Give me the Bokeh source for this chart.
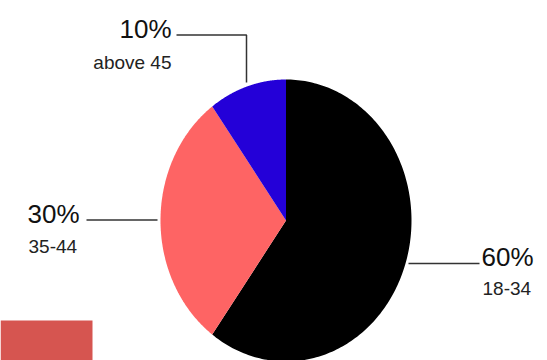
import numpy as np
from bokeh.plotting import figure
from bokeh.models import Range1d, ColumnDataSource
from bokeh.core.properties import value
from bokeh.embed import file_html
from bokeh.resources import INLINE

# data
categories = ["18-34", "35-44", "above 45"]
shares = [60, 30, 10]
colors = ["#000000", "#fe6464", "#2400d8"]

# layout (pixel space, y from top)
W, H = 547, 360
cx, cy, rx, ry = 285.5, 220.0, 125.5, 141.0
pct_x = [481.0, 27.0, 171.0]
pct_y = [256.0, 213.0, 28.5]
cat_y = [288.0, 246.0, 61.5]
aligns = ["left", "left", "right"]
lead_xs = [[408, 479], [86, 157], [176, 246, 246]]
lead_ys = [[263, 263], [219.5, 219.5], [34.5, 34.5, 82]]

p = figure(width=W, height=H, x_range=Range1d(0, W), y_range=Range1d(H, 0),
           output_backend="svg", toolbar_location=None, min_border=0)
p.axis.visible = False
p.grid.visible = False
p.outline_line_color = None
p.background_fill_color = "white"
p.border_fill_color = "white"

# pie slices: start at top, going clockwise
xs, ys = [], []
start = 90.0
total = float(sum(shares))
for s in shares:
    sweep = 360.0 * s / total
    t = np.radians(np.linspace(start, start - sweep, 200))
    xs.append([cx] + list(cx + rx * np.cos(t)) + [cx])
    ys.append([cy] + list(cy - ry * np.sin(t)) + [cy])
    start -= sweep
p.patches(xs=xs, ys=ys, fill_color=colors, line_color=None)

# leader lines
p.multi_line(xs=lead_xs, ys=lead_ys, line_color="#333333", line_width=1.5)

# labels
for i in range(len(categories)):
    p.text(x=[pct_x[i]], y=[pct_y[i]], text=[f"{shares[i]}%"],
           text_font=value("Liberation Sans"), text_font_size="26px",
           text_color="#111111", text_align=aligns[i], text_baseline="alphabetic")
    p.text(x=[pct_x[i] + (1 if aligns[i] == "left" else 0)], y=[cat_y[i]], text=[categories[i]],
           text_font=value("Liberation Sans"), text_font_size="19px",
           text_color="#222222", text_align=aligns[i], text_baseline="alphabetic")

# decorative block bottom-left
p.quad(left=[0], right=[92], top=[320], bottom=[360], fill_color="#d65550", line_color=None)

open("out.html", "w").write(file_html(p, INLINE))
